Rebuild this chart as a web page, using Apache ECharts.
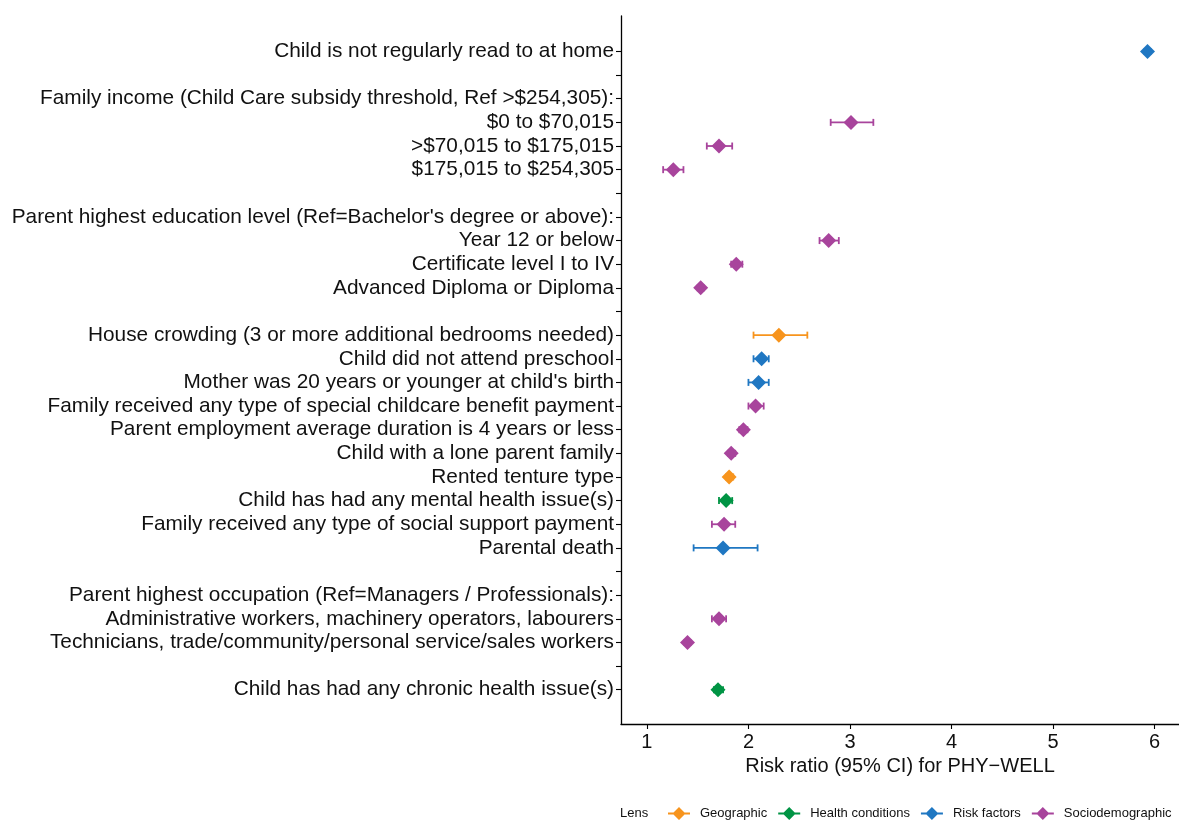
<!DOCTYPE html>
<html>
<head>
<meta charset="utf-8">
<script src="https://cdn.jsdelivr.net/npm/echarts@6/dist/echarts.min.js"></script>
<style>
  html, body { margin: 0; padding: 0; background: #fff; }
  #chart { width: 1179px; height: 821px; }
</style>
</head>
<body>
<div id="chart"></div>
<script>
// Row labels, top to bottom ('' = spacer row between groups)
const rowLabels = [
  'Child is not regularly read to at home',
  '',
  'Family income (Child Care subsidy threshold, Ref >$254,305):',
  '$0 to $70,015',
  '>$70,015 to $175,015',
  '$175,015 to $254,305',
  '',
  "Parent highest education level (Ref=Bachelor's degree or above):",
  'Year 12 or below',
  'Certificate level I to IV',
  'Advanced Diploma or Diploma',
  '',
  'House crowding (3 or more additional bedrooms needed)',
  'Child did not attend preschool',
  "Mother was 20 years or younger at child's birth",
  'Family received any type of special childcare benefit payment',
  'Parent employment average duration is 4 years or less',
  'Child with a lone parent family',
  'Rented tenture type',
  'Child has had any mental health issue(s)',
  'Family received any type of social support payment',
  'Parental death',
  '',
  'Parent highest occupation (Ref=Managers / Professionals):',
  'Administrative workers, machinery operators, labourers',
  'Technicians, trade/community/personal service/sales workers',
  '',
  'Child has had any chronic health issue(s)'
];

// Lens of each row (null for headers and spacers)
const G = 'Geographic', H = 'Health conditions', R = 'Risk factors', S = 'Sociodemographic';
const rowLens = [
  R, null, null, S, S, S, null, null, S, S, S, null,
  G, R, R, S, S, S, G, H, S, R, null, null, S, S, null, H
];

// Risk ratio and 95% CI per row
const riskRatio = [
  5.93, null, null, 3.01, 1.71, 1.26, null, null, 2.79, 1.88, 1.53, null,
  2.30, 2.13, 2.10, 2.07, 1.95, 1.83, 1.81, 1.78, 1.76, 1.75, null, null, 1.71, 1.40, null, 1.70
];
const ciLow = [
  5.90, null, null, 2.81, 1.59, 1.16, null, null, 2.70, 1.83, 1.50, null,
  2.05, 2.05, 2.00, 2.00, 1.91, 1.80, 1.78, 1.71, 1.64, 1.46, null, null, 1.64, 1.37, null, 1.66
];
const ciHigh = [
  5.96, null, null, 3.23, 1.84, 1.36, null, null, 2.89, 1.94, 1.56, null,
  2.58, 2.20, 2.20, 2.15, 1.99, 1.87, 1.85, 1.84, 1.87, 2.09, null, null, 1.78, 1.43, null, 1.75
];

const lensNames = [G, H, R, S];
const lensColors = ['#F7941D', '#009444', '#1F77C2', '#A8449C'];

const rowIdx = rowLabels.map((_, i) => i);
const font = 'Liberation Sans, Arial, sans-serif';

function pointsFor(lens) {
  const out = [];
  rowIdx.forEach(i => { if (rowLens[i] === lens) out.push([riskRatio[i], i]); });
  return out;
}
function barsFor(lens) {
  const out = [];
  rowIdx.forEach(i => { if (rowLens[i] === lens) out.push([ciLow[i], ciHigh[i], i]); });
  return out;
}

const series = [];
lensNames.forEach((name, k) => {
  const color = lensColors[k];
  // horizontal CI whiskers with end caps
  series.push({
    name: name,
    type: 'custom',
    data: barsFor(name),
    encode: { x: [0, 1], y: 2 },
    z: 2,
    renderItem: function (params, api) {
      const a = api.coord([api.value(0), api.value(2)]);
      const b = api.coord([api.value(1), api.value(2)]);
      const cap = 3.5;
      const st = { stroke: color, lineWidth: 1.8 };
      return {
        type: 'group',
        children: [
          { type: 'line', shape: { x1: a[0], y1: a[1], x2: b[0], y2: b[1] }, style: st },
          { type: 'line', shape: { x1: a[0], y1: a[1] - cap, x2: a[0], y2: a[1] + cap }, style: st },
          { type: 'line', shape: { x1: b[0], y1: b[1] - cap, x2: b[0], y2: b[1] + cap }, style: st }
        ]
      };
    }
  });
  // point estimates
  series.push({
    name: name,
    type: 'scatter',
    data: pointsFor(name),
    symbol: 'diamond',
    symbolSize: [15, 15],
    itemStyle: { color: color, opacity: 1 },
    z: 3,
    silent: true
  });
});

const chart = echarts.init(document.getElementById('chart'), null, { renderer: 'canvas' });
chart.setOption({
  animation: false,
  backgroundColor: '#fff',
  color: lensColors,
  textStyle: { fontFamily: font },
  grid: { left: 621, right: 0, top: 16, bottom: 97, containLabel: false },
  xAxis: {
    type: 'value',
    min: 0.745,
    max: 6.24,
    splitLine: { show: false },
    axisLine: { show: true, onZero: false, lineStyle: { color: '#000', width: 1.3 } },
    axisTick: { show: true, length: 5, customValues: [1, 2, 3, 4, 5, 6], lineStyle: { color: '#000', width: 1.1 } },
    axisLabel: {
      customValues: [1, 2, 3, 4, 5, 6],
      fontSize: 20, color: '#111', margin: 8, fontFamily: font
    },
    name: 'Risk ratio (95% CI) for PHY\u2212WELL',
    nameLocation: 'middle',
    nameGap: 30,
    nameTextStyle: { fontSize: 20, color: '#111', fontFamily: font }
  },
  yAxis: {
    type: 'value',
    inverse: true,
    min: -1.5,
    max: 28.45,
    splitLine: { show: false },
    axisLine: { show: true, onZero: false, lineStyle: { color: '#000', width: 1.3 } },
    axisTick: { show: true, length: 5, customValues: rowIdx, lineStyle: { color: '#000', width: 1.1 } },
    axisLabel: {
      customValues: rowIdx,
      formatter: v => rowLabels[Math.round(v)],
      fontSize: 20.8, color: '#111', margin: 7, fontFamily: font
    }
  },
  legend: {
    data: lensNames,
    left: 668,
    top: 807,
    padding: 0,
    orient: 'horizontal',
    itemWidth: 22,
    itemHeight: 13,
    itemGap: 11,
    icon: 'path://M0,5.5H22V7.5H0Z M11,0L17.5,6.5L11,13L4.5,6.5Z',
    textStyle: { fontSize: 13, color: '#111', padding: [0, 0, 0, 5], fontFamily: font },
    selectedMode: false
  },
  graphic: [{
    type: 'text',
    left: 620,
    top: 807,
    style: { text: 'Lens', fontSize: 13, fill: '#111', fontFamily: font }
  }],
  series: series
});
</script>
</body>
</html>
